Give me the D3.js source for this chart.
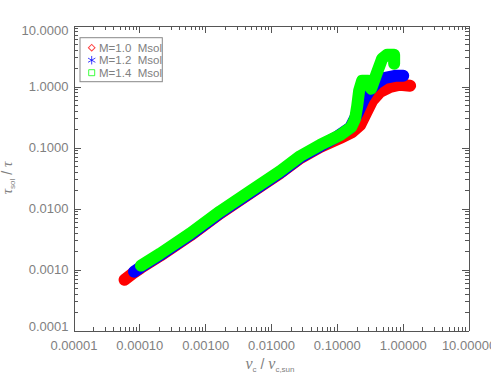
<!DOCTYPE html>
<html>
<head>
<meta charset="utf-8">
<script src="https://cdn.jsdelivr.net/npm/d3@7"></script>
<style>
  body { margin: 0; background: #fff; }
  svg { display: block; font-family: "Liberation Sans", Arial, sans-serif; }
  .ax .domain, .ax line { stroke: #555; shape-rendering: crispEdges; }
  .ax text { fill: #808080; font-size: 13px; font-family: "Liberation Sans", Arial, sans-serif; }
</style>
</head>
<body>
<div id="chart"></div>
<script>
// axis ticks
const xMajor = [1e-5, 1e-4, 1e-3, 1e-2, 1e-1, 1, 10];
const xTickLabels = ["0.00001", "0.00010", "0.00100", "0.01000", "0.10000", "1.00000", "10.00000"];
const yMajor = [1e-4, 1e-3, 1e-2, 1e-1, 1, 10];
const yTickLabels = ["0.0001", "0.0010", "0.0100", "0.1000", "1.0000", "10.0000"];

// series (nu_c / nu_c,sun , tau_sol / tau)
const labels = ["M=1.0  Msol", "M=1.2  Msol", "M=1.4  Msol"];
const colors = ["#ff0000", "#0000ff", "#00ff00"];

const redX = [5.96e-5, 8.3e-5, 1.06e-4, 2.07e-4, 5.9e-4, 1.68e-3, 4.81e-3, 0.0137, 0.0277, 0.0557, 0.112, 0.171, 0.226, 0.279, 0.344, 0.455, 0.646, 0.912, 1.30];
const redY = [6.79e-4, 8.9e-4, 1.07e-3, 1.68e-3, 3.60e-3, 8.3e-3, 0.0177, 0.0378, 0.0668, 0.102, 0.143, 0.179, 0.234, 0.369, 0.581, 0.818, 0.989, 1.07, 1.03];

const blueX = [8.3e-5, 1.06e-4, 2.07e-4, 5.9e-4, 1.68e-3, 4.81e-3, 0.0137, 0.0277, 0.0557, 0.098, 0.159, 0.211, 0.260, 0.321, 0.409, 0.541, 0.767, 1.02];
const blueY = [9.2e-4, 1.10e-3, 1.73e-3, 3.70e-3, 8.5e-3, 0.0181, 0.0388, 0.0686, 0.1045, 0.148, 0.210, 0.383, 0.627, 0.883, 1.15, 1.39, 1.50, 1.50];

const greenX = [1.06e-4, 2.07e-4, 5.9e-4, 1.68e-3, 4.81e-3, 0.0137, 0.0277, 0.0557, 0.112, 0.165, 0.19, 0.204, 0.218, 0.242, 0.299, 0.332, 0.396, 0.488, 0.581, 0.742, 0.742];
const greenY = [1.16e-3, 1.82e-3, 3.89e-3, 8.96e-3, 0.0191, 0.0408, 0.0722, 0.110, 0.160, 0.215, 0.30, 0.48, 0.85, 1.24, 1.24, 0.92, 1.56, 2.86, 3.33, 3.33, 2.37];

const W = 491, H = 382;
const mLeft = 73.5, mRight = 468.5, mTop = 25.5, mBottom = 330.5;

const svg = d3.select("#chart").append("svg")
  .attr("width", W)
  .attr("height", H);

svg.append("rect").attr("width", W).attr("height", H).attr("fill", "#fff");

const x = d3.scaleLog().domain([1e-5, 10]).range([mLeft, mRight]);
const y = d3.scaleLog().domain([1e-4, 10]).range([mBottom, mTop]);

const xMinor = x.ticks().filter(t => !xMajor.some(m => Math.abs(m - t) / m < 1e-6));
const yMinor = y.ticks().filter(t => !yMajor.some(m => Math.abs(m - t) / m < 1e-6));

// bottom axis with labels
svg.append("g").attr("class", "ax").attr("transform", "translate(0," + mBottom + ")")
  .call(d3.axisBottom(x).tickValues(xMajor).tickSizeInner(-7).tickSizeOuter(0).tickPadding(10)
    .tickFormat((d, i) => xTickLabels[i]));
svg.append("g").attr("class", "ax").attr("transform", "translate(0," + mBottom + ")")
  .call(d3.axisBottom(x).tickValues(xMinor).tickSizeInner(-4).tickSizeOuter(0).tickFormat(""));

// top axis
svg.append("g").attr("class", "ax").attr("transform", "translate(0," + mTop + ")")
  .call(d3.axisTop(x).tickValues(xMajor).tickSizeInner(-7).tickSizeOuter(0).tickFormat(""));
svg.append("g").attr("class", "ax").attr("transform", "translate(0," + mTop + ")")
  .call(d3.axisTop(x).tickValues(xMinor).tickSizeInner(-4).tickSizeOuter(0).tickFormat(""));

// left axis with labels
const yAx = svg.append("g").attr("class", "ax").attr("transform", "translate(" + mLeft + ",0)")
  .call(d3.axisLeft(y).tickValues(yMajor).tickSizeInner(-7).tickSizeOuter(0).tickPadding(5)
    .tickFormat((d, i) => yTickLabels[i]));
yAx.selectAll("text").attr("dy", (d, i) => i === 0 ? "0.02em" : (i === yMajor.length - 1 ? "0.68em" : "0.32em"));
svg.append("g").attr("class", "ax").attr("transform", "translate(" + mLeft + ",0)")
  .call(d3.axisLeft(y).tickValues(yMinor).tickSizeInner(-4).tickSizeOuter(0).tickFormat(""));

// right axis
svg.append("g").attr("class", "ax").attr("transform", "translate(" + mRight + ",0)")
  .call(d3.axisRight(y).tickValues(yMajor).tickSizeInner(-7).tickSizeOuter(0).tickFormat(""));
svg.append("g").attr("class", "ax").attr("transform", "translate(" + mRight + ",0)")
  .call(d3.axisRight(y).tickValues(yMinor).tickSizeInner(-4).tickSizeOuter(0).tickFormat(""));

// data
const series = [
  { xs: redX, ys: redY, color: colors[0], sym: "diamond" },
  { xs: blueX, ys: blueY, color: colors[1], sym: "asterisk" },
  { xs: greenX, ys: greenY, color: colors[2], sym: "square" }
];

const line = d3.line().x(d => x(d[0])).y(d => y(d[1]));

function symbolPath(sym, size) {
  if (sym === "asterisk") return d3.symbol(d3.symbolAsterisk, size * 1.4)();
  return d3.symbol(d3.symbolSquare, size)();
}

const plot = svg.append("g");
series.forEach(s => {
  const pts = s.xs.map((v, i) => [v, s.ys[i]]);
  plot.append("path")
    .attr("d", line(pts))
    .attr("fill", "none")
    .attr("stroke", s.color)
    .attr("stroke-width", 12)
    .attr("stroke-linejoin", "round")
    .attr("stroke-linecap", "round");
  plot.selectAll(null)
    .data(pts).enter()
    .append("path")
    .attr("d", symbolPath(s.sym, 40))
    .attr("transform", d => "translate(" + x(d[0]) + "," + y(d[1]) + ")" + (s.sym === "diamond" ? " rotate(45)" : ""))
    .attr("fill", "none")
    .attr("stroke", s.color)
    .attr("stroke-width", 1);
});

// legend
const leg = svg.append("g");
leg.append("rect")
  .attr("x", 80).attr("y", 37.7).attr("width", 82.3).attr("height", 44)
  .attr("fill", "#fff").attr("stroke", "#888").attr("stroke-width", 1);
series.forEach((s, i) => {
  const ly = 47.7 + i * 12.5;
  leg.append("path")
    .attr("d", symbolPath(s.sym, s.sym === "diamond" ? 22 : 36))
    .attr("transform", "translate(91.7," + ly + ")" + (s.sym === "diamond" ? " rotate(45)" : ""))
    .attr("fill", "none")
    .attr("stroke", s.color)
    .attr("stroke-opacity", 0.75)
    .attr("stroke-width", 1);
  leg.append("text")
    .attr("x", 99).attr("y", ly).attr("dy", "0.36em")
    .attr("font-size", "11.5px")
    .attr("fill", "#808080")
    .attr("xml:space", "preserve")
    .text(labels[i]);
});

// axis titles
const xt = svg.append("text")
  .attr("x", 270).attr("y", 368.5)
  .attr("text-anchor", "middle")
  .attr("fill", "#808080");
xt.append("tspan").attr("font-family", "'Liberation Serif', serif").attr("font-style", "italic").attr("font-size", "16px").text("ν");
xt.append("tspan").attr("font-size", "8px").attr("dy", 3).text("c");
xt.append("tspan").attr("font-size", "14px").attr("dy", -3).text(" / ");
xt.append("tspan").attr("font-family", "'Liberation Serif', serif").attr("font-style", "italic").attr("font-size", "16px").text("ν");
xt.append("tspan").attr("font-size", "8px").attr("dy", 3).text("c,sun");

const yt = svg.append("text")
  .attr("transform", "translate(12,178) rotate(-90)")
  .attr("text-anchor", "middle")
  .attr("fill", "#808080");
yt.append("tspan").attr("font-family", "'Liberation Serif', serif").attr("font-style", "italic").attr("font-size", "15px").text("τ");
yt.append("tspan").attr("font-size", "8px").attr("dy", 3).text("sol");
yt.append("tspan").attr("font-size", "14px").attr("dy", -3).text(" / ");
yt.append("tspan").attr("font-family", "'Liberation Serif', serif").attr("font-style", "italic").attr("font-size", "15px").text("τ");
</script>
</body>
</html>
